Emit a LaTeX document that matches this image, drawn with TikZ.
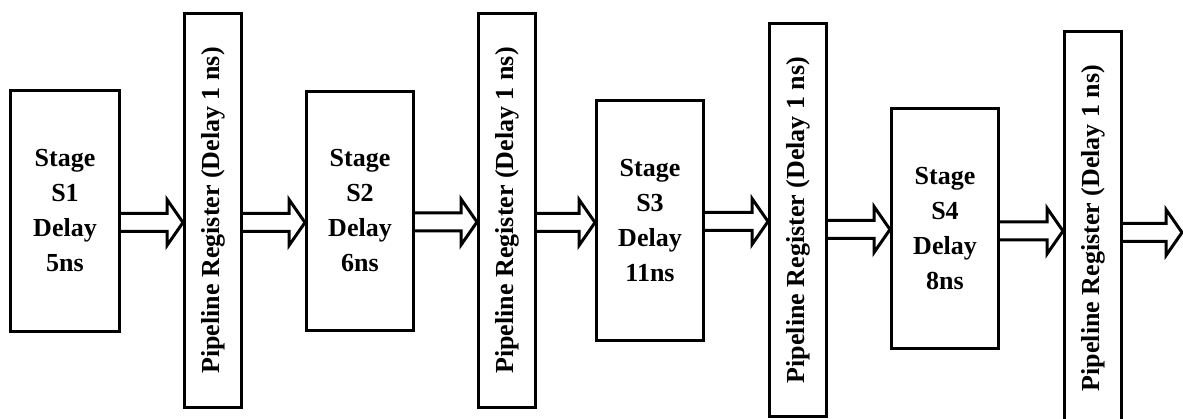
\documentclass[tikz,border=0pt]{standalone}
\usepackage{fontspec}
\setmainfont{Liberation Serif}
\usetikzlibrary{calc}
\tikzset{
  stagebox/.style={draw, line width=3pt, inner sep=0pt, align=center,
    font=\fontsize{26}{35}\selectfont\bfseries},
  regbox/.style={draw, line width=3pt, inner sep=0pt, minimum width=57pt, minimum height=393pt},
  regtext/.style={rotate=90, inner sep=0pt, font=\fontsize{26}{30}\selectfont\bfseries},
  blockarrow/.style={draw, line width=3pt, fill=white, line join=miter, miter limit=10}
}
\newcommand\blkarrow[3]{%
  \draw[blockarrow] let \p1=(#1.east), \p2=(#2) in
    (\x1,#3-9) -- (\x2-16,#3-9) -- (\x2-16,#3-23) -- (\x2,#3) --
    (\x2-16,#3+23) -- (\x2-16,#3+9) -- (\x1,#3+9);}
\begin{document}
\begin{tikzpicture}[x=1pt,y=-1pt]
\useasboundingbox[fill=white] (0,0) rectangle (1183,419);
% stages
\node[stagebox, minimum width=109pt, minimum height=241pt] (s1) at (65,211) {Stage\\S1\\Delay\\5ns};
\node[stagebox, minimum width=107pt, minimum height=239pt] (s2) at (360,211) {Stage\\S2\\Delay\\6ns};
\node[stagebox, minimum width=107pt, minimum height=240pt] (s3) at (650,220.5) {Stage\\S3\\Delay\\11ns};
\node[stagebox, minimum width=107pt, minimum height=240pt] (s4) at (945,228.5) {Stage\\S4\\Delay\\8ns};
% registers
\node[regbox] (r1) at (213,210.5) {};
\node[regtext] (r1t) at (r1) {Pipeline Register (Delay 1 ns)};
\node[regbox] (r2) at (507,210.5) {};
\node[regtext] (r2t) at (r2) {Pipeline Register (Delay 1 ns)};
\node[regbox] (r3) at (798,220) {};
\node[regtext] (r3t) at (r3) {Pipeline Register (Delay 1 ns)};
\node[regbox] (r4) at (1093,228) {};
\node[regtext] (r4t) at (r4) {Pipeline Register (Delay 1 ns)};
\coordinate (out) at (1182,232);
% arrows
\blkarrow{s1}{r1.west}{222.5}
\blkarrow{r1}{s2.west}{222.5}
\blkarrow{s2}{r2.west}{222}
\blkarrow{r2}{s3.west}{222.5}
\blkarrow{s3}{r3.west}{221.5}
\blkarrow{r3}{s4.west}{229.5}
\blkarrow{s4}{r4.west}{231}
\blkarrow{r4}{out}{232.5}
\end{tikzpicture}
\end{document}
